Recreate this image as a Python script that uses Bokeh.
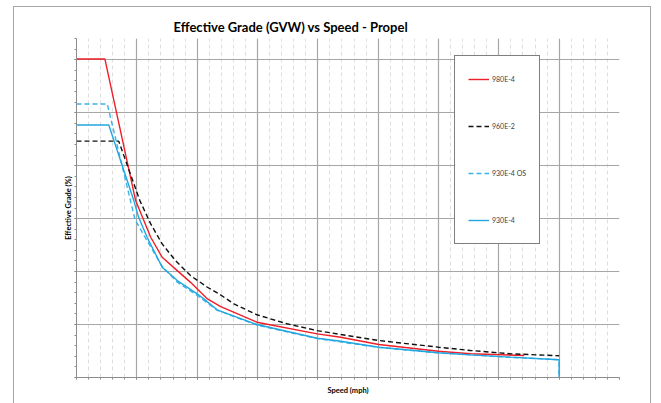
from bokeh.plotting import figure
from bokeh.models import (Range1d, SingleIntervalTicker, Legend, LegendItem,
                          CustomJSTickFormatter, Title)
from bokeh.embed import file_html
from bokeh.resources import INLINE

# ---- data ----
speed_980 = [0.0, 0.47, 0.98, 1.23, 1.42, 1.67, 1.89, 2.17, 2.39, 2.99, 3.99, 4.38, 5.01, 6.0, 6.53, 7.42]
grade_980 = [30.07, 30.07, 16.7, 13.24, 11.35, 10.09, 8.98, 7.42, 6.70, 5.22, 4.12, 3.80, 3.11, 2.48, 2.24, 2.08]

speed_960 = [0.0, 0.70, 1.05, 1.23, 1.42, 1.64, 1.89, 2.17, 2.36, 2.61, 2.99, 3.49, 3.99, 4.38, 5.01, 6.0, 6.53, 7.19, 8.0]
grade_960 = [22.31, 22.31, 16.7, 14.5, 12.61, 11.04, 9.62, 8.52, 7.9, 6.95, 5.92, 5.07, 4.43, 4.06, 3.49, 2.86, 2.55, 2.24, 2.05]

speed_930os = [0.0, 0.51, 0.97, 1.17, 1.42, 1.67, 2.0, 2.33, 2.99, 3.99, 5.01, 6.0, 7.19, 8.0, 8.0]
grade_930os = [25.82, 25.82, 14.9, 12.9, 10.5, 9.0, 7.75, 6.35, 4.95, 3.68, 2.84, 2.32, 1.90, 1.68, 0.0]

speed_930 = [0.0, 0.535, 0.95, 1.03, 1.17, 1.42, 1.67, 2.0, 2.11, 2.33, 2.99, 3.99, 4.38, 5.01, 6.0, 6.53, 7.19, 8.0, 8.0]
grade_930 = [23.84, 23.84, 16.7, 15.12, 13.24, 10.41, 9.15, 7.9, 7.42, 6.39, 5.0, 3.71, 3.42, 2.86, 2.33, 2.14, 1.92, 1.67, 0.0]

labels = ["980E-4", "960E-2", "930E-4 OS", "930E-4"]

FONT = "Lato"

p = figure(width=636, height=403, output_backend="svg", toolbar_location=None,
           x_range=Range1d(0, 9), y_range=Range1d(0, 32),
           frame_width=543, frame_height=339,
           min_border_left=62, min_border_right=31, min_border_top=31, min_border_bottom=33,
           background_fill_color="white", border_fill_color="white")
p.outline_line_color = None
p.styles = {"border": "1px solid #a6a6a6", "margin-left": "13px", "margin-top": "6px"}

p.title = Title(text="Effective Grade (GVW) vs Speed - Propel", align="left", offset=97,
                standoff=7,
                text_font=FONT, text_font_size="13px", text_font_style="bold",
                text_color="#000000")

blank = CustomJSTickFormatter(code="return ''")
for ax, interval in ((p.xaxis[0], 1), (p.yaxis[0], 5)):
    ax.ticker = SingleIntervalTicker(interval=interval, num_minor_ticks=5)
    ax.formatter = blank
    ax.axis_line_color = "#8c8c8c"
    ax.major_tick_line_color = "#8c8c8c"
    ax.minor_tick_line_color = "#8c8c8c"
    ax.major_tick_out = 2
    ax.major_tick_in = 0
    ax.minor_tick_out = 2
    ax.minor_tick_in = 0
    ax.axis_label_text_font = FONT
    ax.axis_label_text_font_size = "7.5px"
    ax.axis_label_text_font_style = "bold"
    ax.axis_label_text_color = "#000000"
    ax.major_label_standoff = 0

p.xaxis.axis_label = "Speed (mph)"
p.yaxis.axis_label = "Effective Grade (%)"
p.xaxis.axis_label_standoff = 6
p.yaxis.axis_label_standoff = 2

p.xgrid.grid_line_color = "#a6a6a6"
p.ygrid.grid_line_color = "#a6a6a6"
p.xgrid.grid_line_width = 1.2
p.ygrid.grid_line_width = 1.2
p.xgrid.minor_grid_line_color = "#dedede"
p.xgrid.minor_grid_line_dash = "4 3"
p.ygrid.minor_grid_line_color = None

r1 = p.line(speed_980, grade_980, line_color="#f01e28", line_width=1.4)
r2 = p.line(speed_960, grade_960, line_color="#111111", line_width=1.4, line_dash="5 3")
r3 = p.line(speed_930os, grade_930os, line_color="#3ab4ea", line_width=1.4, line_dash="5 3")
r4 = p.line(speed_930, grade_930, line_color="#22a6e0", line_width=1.4)

legend = Legend(items=[LegendItem(label=l, renderers=[r]) for l, r in zip(labels, [r1, r2, r3, r4])],
                location=(378, 133), orientation="vertical",
                padding=13, spacing=27, margin=0,
                glyph_width=21, glyph_height=20, label_height=20, label_width=28,
                label_standoff=3,
                label_text_font=FONT, label_text_font_size="7px", label_text_color="#404040",
                border_line_color="#000000", border_line_width=1,
                background_fill_color="white", background_fill_alpha=1.0)
p.add_layout(legend, "center")

open("out.html", "w").write(file_html(p, INLINE))
